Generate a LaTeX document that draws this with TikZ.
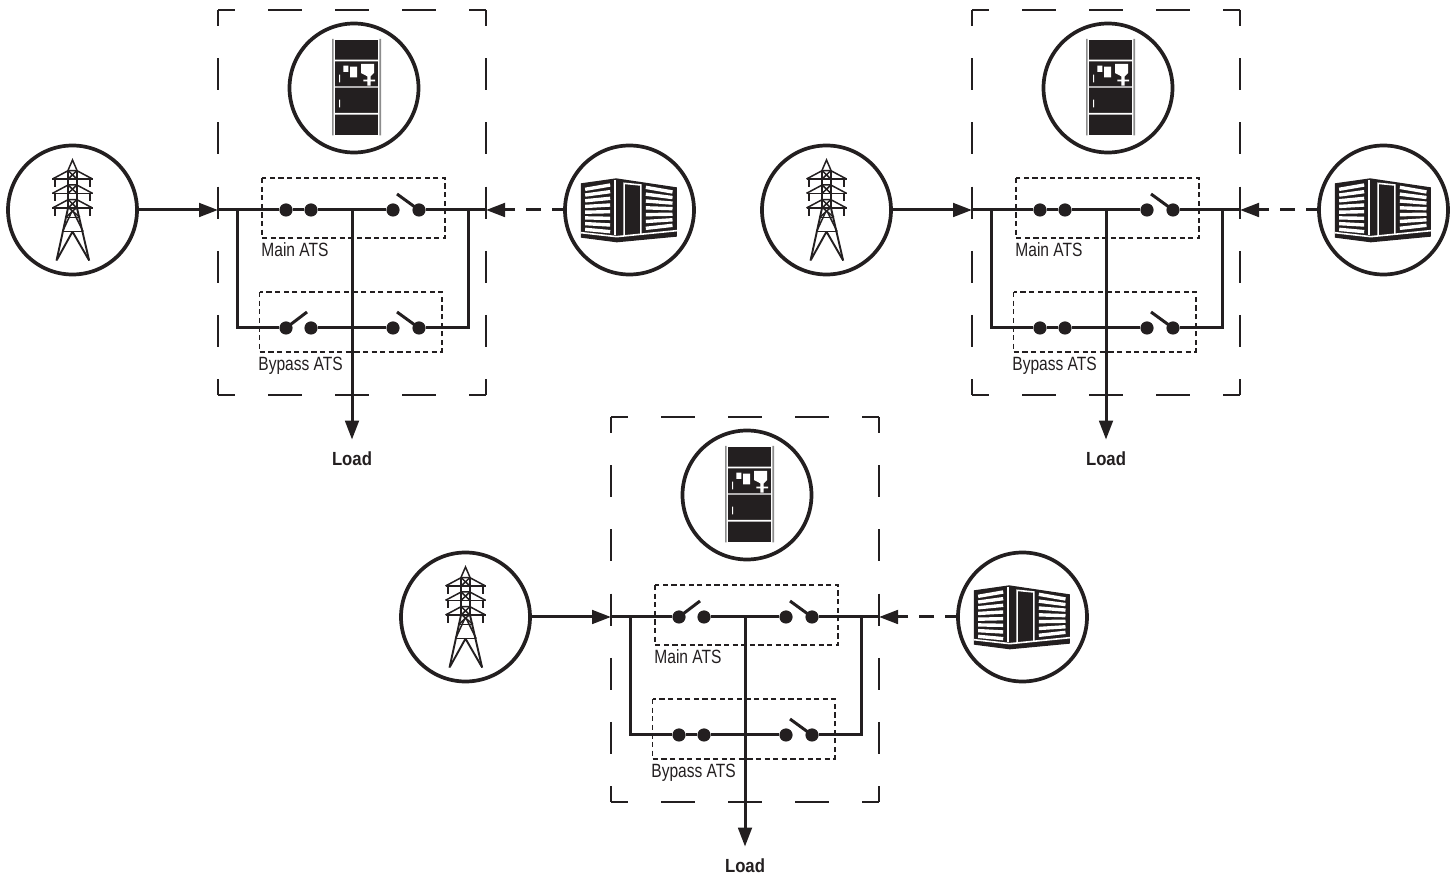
\documentclass[tikz,border=0pt]{standalone}
\usepackage{fontspec}
\setmainfont{Liberation Sans}
\newfontfamily\lblfont[FakeStretch=0.81]{Liberation Sans}
\newfontfamily\loadfont[FakeStretch=0.88,BoldFont={Liberation Sans Bold}]{Liberation Sans}
\usetikzlibrary{arrows.meta}
\definecolor{ink}{HTML}{231F20}
\definecolor{railgrey}{HTML}{8C8C8C}
\tikzset{
  iconring/.style={circle,draw=ink,line width=1.85pt,minimum size=64.5pt,inner sep=0pt,fill=white},
  term/.style={circle,fill=ink,draw=none,minimum size=6.6pt,inner sep=0pt},
  bus/.style={draw=ink,line width=1.5pt},
  feed/.style={bus,-{Triangle[length=9.5pt,width=6.8pt]}},
  genfeed/.style={feed,dash pattern=on 7.5pt off 5.5pt,dash phase=2pt},
  hframe/.style={draw=ink,line width=.9pt,dash pattern=on 16.75pt off 16.75pt,dash phase=8.37pt},
  vframe/.style={draw=ink,line width=.9pt,dash pattern=on 16.05pt off 16.05pt,dash phase=8.02pt},
  atsbox/.style={draw=ink,line width=.7pt,dash pattern=on 2.6pt off 1.7pt},
  atslabel/.style={anchor=west,inner sep=0pt,text=ink,font=\fontsize{9.6}{10}\lblfont},
  loadlabel/.style={minimum height=19pt,inner sep=0pt,text=ink,font=\fontsize{9.5}{10}\loadfont\bfseries},
  icon/.style={x=0.16667pt,y=-0.16667pt},
  towerline/.style={draw=ink,line width=.75pt},
}
% left switch: #1 terminal a, #2 terminal b, #3 = 1 for open
\newcommand\leftswitch[3]{\ifnum#3=1 \draw[bus] (#1.center) -- ++(21,-16);\else \draw[bus] (#1) -- (#2);\fi}
\newcommand\towericon[1]{%
  \begin{scope}[icon,shift={(#1.center)},shift={(-218,-240)}]
    \draw[towerline] (205,120) -- (218,90) -- (231,120);
    \draw[towerline] (205,120) -- (205,232) (231,120) -- (231,232);
    \foreach \yy in {147,190,234}{
      \draw[towerline] (158,\yy) -- (278,\yy);
      \draw[towerline] (158,\yy) -- (205,\yy-25) -- (231,\yy-25) -- (278,\yy);
      \draw[towerline] (205,\yy-25) -- (231,\yy) (231,\yy-25) -- (205,\yy);
      \draw[draw=ink,line width=1.2pt] (165,\yy) -- ++(0,24) (271,\yy) -- ++(0,24);
    }
    \draw[towerline,line width=.95pt] (205,232) -- (170,392) (231,232) -- (268,392);
    \draw[towerline] (198,262) -- (240,262) (188,305) -- (250,305);
    \draw[towerline] (205,232) -- (240,262) (231,232) -- (198,262);
    \draw[towerline] (218,240) -- (188,305) (218,240) -- (250,305);
    \draw[towerline,line width=.95pt] (218,305) -- (172,388) (218,305) -- (266,388);
  \end{scope}}
\newcommand\panelicon[1]{%
  \begin{scope}[icon,shift={(#1.center)},shift={(-222,-205)}]
    \fill[ink] (165,60) rectangle (295,347);
    \fill[railgrey] (156,58) rectangle (161,347) (298,58) rectangle (303,347);
    \fill[white] (165,120) rectangle (295,125) (165,200) rectangle (295,204) (165,280) rectangle (295,285);
    \fill[white] (190,138) rectangle (205,157) (210,141) rectangle (231,173);
    \fill[white] (243,133) -- (282,133) -- (282,160) -- (272,170) -- (272,180) -- (285,180) -- (285,185) -- (272,185) -- (272,198) -- (262,198) -- (262,185) -- (250,185) -- (250,180) -- (262,180) -- (262,170) -- (243,160) -- cycle;
    \fill[white] (177,165) rectangle (180,188) (177,240) rectangle (180,263);
  \end{scope}}
\newcommand\genicon[1]{%
  \begin{scope}[icon,shift={(#1.center)},shift={(-478,-240)}]
    \fill[ink] (332,160) -- (438,145) -- (620,172) -- (620,320) -- (440,337) -- (332,323) -- cycle;
    \foreach \i in {0,...,7}{
      \pgfmathsetmacro\ya{178+\i*120/7}
      \pgfmathsetmacro\yb{165+\i*140/7}
      \draw[white,line width=1.7pt] (345,\ya) -- (420,\yb);
    }
    \foreach \i in {0,...,6}{
      \pgfmathsetmacro\ya{172+\i*123/6}
      \pgfmathsetmacro\yb{186+\i*100/6}
      \draw[white,line width=1.7pt] (527,\ya) -- (607,\yb);
    }
    \draw[white,line width=1.1pt] (434,150) -- (434,314);
    \draw[white,line width=.8pt] (462,318) -- (462,160) -- (512,165) -- (512,312);
    \draw[white,line width=.8pt] (332,308) -- (440,320) -- (620,302);
  \end{scope}}
% #1 prefix, #2 dx, #3 dy, #4 main-left open, #5 bypass-left open
\newcommand\atsunit[5]{%
\begin{scope}[shift={(#2,#3)}]
  \draw[hframe] (218,10) -- (486,10);
  \draw[hframe] (218,395) -- (486,395);
  \draw[vframe] (218,10) -- (218,395);
  \draw[vframe] (486,10) -- (486,395);
  \node[iconring] (#1tw) at (72.5,210) {};
  \node[iconring] (#1pn) at (354,88) {};
  \node[iconring] (#1gn) at (629.5,210) {};
  \towericon{#1tw}
  \panelicon{#1pn}
  \genicon{#1gn}
  \draw[atsbox] (262,178) rectangle (445,238);
  \draw[atsbox] (259.5,292) rectangle (442,352);
  \coordinate (#1in) at (218,210);
  \coordinate (#1out) at (486,210);
  \coordinate (#1jl) at (237,210);
  \coordinate (#1jc) at (352,210);
  \coordinate (#1jr) at (468,210);
  \node[term] (#1ma) at (286,210) {};
  \node[term] (#1mb) at (311,210) {};
  \node[term] (#1mc) at (393,210) {};
  \node[term] (#1md) at (419,210) {};
  \node[term] (#1ba) at (286,328) {};
  \node[term] (#1bb) at (311,328) {};
  \node[term] (#1bc) at (393,328) {};
  \node[term] (#1bd) at (419,328) {};
  \node[loadlabel] (#1ld) at (352,459) {Load};
  \node[atslabel] (#1ml) at (261,249.5) {Main ATS};
  \node[atslabel] (#1bl) at (258,366) {Bypass ATS};
  \draw[feed] (#1tw) -- (#1in);
  \draw[genfeed] (#1gn) -- (#1out);
  \draw[bus] (#1in) -- (#1ma);
  \leftswitch{#1ma}{#1mb}{#4}
  \draw[bus] (#1mb) -- (#1mc);
  \draw[bus] (#1md.center) -- ++(-22,-16);
  \draw[bus] (#1md) -- (#1out);
  \draw[bus,line join=miter] (#1jl) |- (#1ba);
  \leftswitch{#1ba}{#1bb}{#5}
  \draw[bus] (#1bb) -- (#1bc);
  \draw[bus] (#1bd.center) -- ++(-22,-16);
  \draw[bus,line join=miter] (#1bd) -| (#1jr);
  \draw[feed] (#1jc) -- (#1ld);
\end{scope}}
\begin{document}
\begin{tikzpicture}[x=0.5pt,y=-0.5pt]
  \useasboundingbox (0,0) rectangle (1453,876);
  \atsunit{a}{0}{0}{0}{1}
  \atsunit{b}{754}{0}{0}{0}
  \atsunit{c}{393}{407}{1}{0}
\end{tikzpicture}
\end{document}
